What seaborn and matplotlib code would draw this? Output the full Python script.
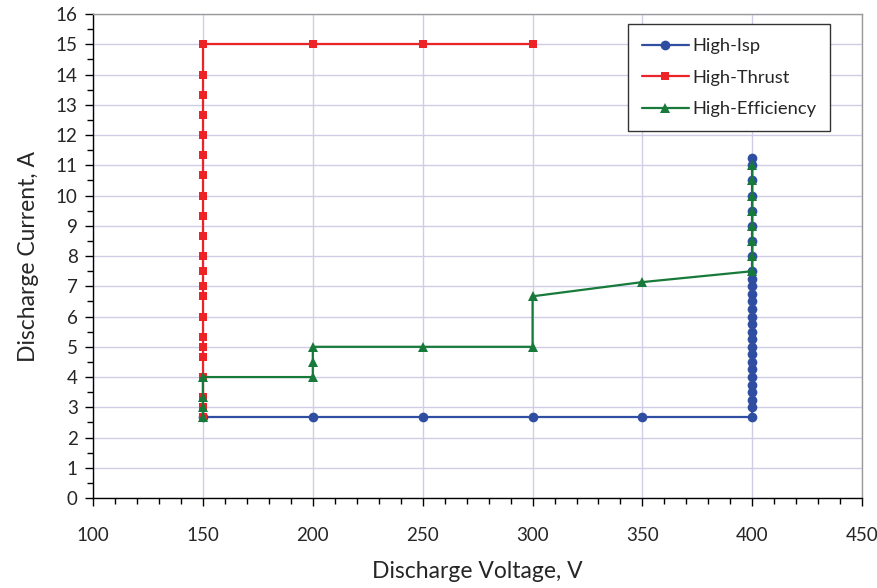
import matplotlib
matplotlib.use("Agg")
import matplotlib.pyplot as plt
from matplotlib.ticker import MultipleLocator
import seaborn as sns
import pandas as pd

# Operating-point sweeps (discharge voltage in V, discharge current in A)
isp_voltage = [150, 200, 250, 300, 350, 400,
               400, 400, 400, 400, 400, 400, 400, 400, 400, 400,
               400, 400, 400, 400, 400, 400, 400, 400, 400,
               400, 400, 400, 400, 400, 400, 400, 400]
isp_current = [2.67, 2.67, 2.67, 2.67, 2.67, 2.67,
               3.0, 3.25, 3.5, 3.75, 4.0, 4.25, 4.5, 4.75, 5.0, 5.25,
               5.5, 5.75, 6.0, 6.25, 6.5, 6.75, 7.0, 7.25, 7.5,
               8.0, 8.5, 9.0, 9.5, 10.0, 10.5, 11.0, 11.25]

thrust_voltage = [150] * 22 + [200, 250, 300]
thrust_current = [2.67, 3.0, 3.33, 4.0, 4.67, 5.0, 5.33, 6.0, 6.67, 7.0, 7.5,
                  8.0, 8.67, 9.33, 10.0, 10.67, 11.33, 12.0, 12.67, 13.33,
                  14.0, 15.0, 15.0, 15.0, 15.0]

eff_voltage = [150, 150, 150, 150, 200, 200, 200, 250, 300, 300, 350,
               400, 400, 400, 400, 400, 400, 400, 400]
eff_current = [2.67, 3.0, 3.33, 4.0, 4.0, 4.5, 5.0, 5.0, 5.0, 6.67, 7.14,
               7.5, 8.0, 8.5, 9.0, 9.5, 10.0, 10.5, 11.0]

series_names = ["High-Isp", "High-Thrust", "High-Efficiency"]

sns.set_style("white")
plt.rcParams["font.family"] = ["Lato", "DejaVu Sans"]

fig = plt.figure(figsize=(8.78, 5.88), dpi=100)
ax = fig.add_axes([0.106, 0.153, 0.876, 0.823])

styles = [
    dict(color="#2F4EA2", marker="o", markersize=7),
    dict(color="#EC2428", marker="s", markersize=5.8),
    dict(color="#177A3A", marker="^", markersize=7),
]
data = [(isp_voltage, isp_current), (thrust_voltage, thrust_current),
        (eff_voltage, eff_current)]

for name, (xv, yv), st in zip(series_names, data, styles):
    df = pd.DataFrame({"V": xv, "I": yv})
    sns.lineplot(data=df, x="V", y="I", sort=False, estimator=None, ax=ax,
                 color=st["color"], marker=st["marker"],
                 markersize=st["markersize"], markeredgewidth=0,
                 linewidth=1.6, label=name, zorder=3)

ax.set_xlim(100, 450)
ax.set_ylim(0, 16)
ax.xaxis.set_major_locator(MultipleLocator(50))
ax.xaxis.set_minor_locator(MultipleLocator(10))
ax.yaxis.set_major_locator(MultipleLocator(1))
ax.yaxis.set_minor_locator(MultipleLocator(0.5))

ax.grid(True, which="major", color="#CFCDE6", linewidth=1.0)
ax.set_axisbelow(True)

for side in ("top", "right"):
    ax.spines[side].set_color("#9A9A9A")
    ax.spines[side].set_linewidth(1.0)
for side in ("left", "bottom"):
    ax.spines[side].set_color("#000000")
    ax.spines[side].set_linewidth(1.0)

ax.tick_params(axis="both", which="major", direction="out", length=6,
               width=1, color="black", labelsize=13.5, pad=5,
               bottom=True, left=True)
ax.tick_params(axis="both", which="minor", direction="out", length=4,
               width=1, color="black", bottom=True, left=True)
ax.tick_params(axis="x", which="major", pad=15)

ax.set_xlabel("Discharge Voltage, V", fontsize=16.5, labelpad=12)
ax.set_ylabel("Discharge Current, A", fontsize=16.5, labelpad=12)

leg = ax.legend(loc="upper right", bbox_to_anchor=(0.97, 0.998),
                fontsize=13.2, frameon=True, fancybox=False,
                edgecolor="#333333", framealpha=1, borderpad=0.75,
                labelspacing=0.85, handlelength=2.6, handletextpad=0.15)
leg.get_frame().set_linewidth(1.0)

fig.savefig("out.png", dpi=100)
